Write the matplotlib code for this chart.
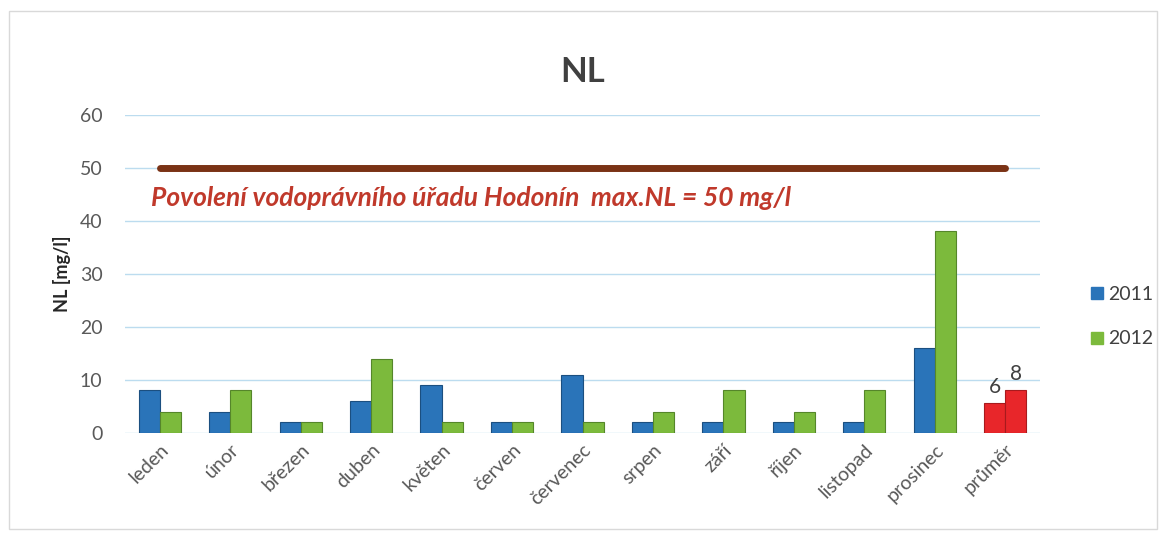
import numpy as np
import matplotlib.pyplot as plt
from matplotlib.patches import Rectangle
from matplotlib.lines import Line2D

plt.rcParams['font.family'] = ['Lato', 'DejaVu Sans']

months = ['leden', 'únor', 'březen', 'duben', 'květen', 'červen', 'červenec',
          'srpen', 'září', 'říjen', 'listopad', 'prosinec', 'průměr']
nl_2011 = [8, 4, 2, 6, 9, 2, 11, 2, 2, 2, 2, 16, 5.6]
nl_2012 = [4, 8, 2, 14, 2, 2, 2, 4, 8, 4, 8, 38, 8]
avg_labels = ['6', '8']
limit = 50
limit_text = 'Povolení vodoprávního úřadu Hodonín  max.NL = 50 mg/l'

blue = '#2a74b9'
green = '#7cba3c'
red = '#e8262a'

fig = plt.figure(figsize=(11.65, 5.37), dpi=100)
fig.patches.append(Rectangle((0.008, 0.015), 0.985, 0.965, transform=fig.transFigure,
                             fill=False, edgecolor='#d9d9d9', linewidth=1))
ax = fig.add_axes([0.107, 0.194, 0.786, 0.592])

x = np.arange(len(months))
w = 0.3
c1 = [blue] * (len(months) - 1) + [red]
c2 = [green] * (len(months) - 1) + [red]
e1 = ['#1b4f80'] * (len(months) - 1) + ['#a81a1d']
e2 = ['#55862a'] * (len(months) - 1) + ['#a81a1d']
ax.bar(x - w / 2, nl_2011, w, color=c1, edgecolor=e1, linewidth=0.8, zorder=3)
ax.bar(x + w / 2, nl_2012, w, color=c2, edgecolor=e2, linewidth=0.8, zorder=3)

ax.plot([x[0], x[-1]], [limit, limit], color='#7a3215', linewidth=5,
        solid_capstyle='round', zorder=4)
ax.text(-0.12, 44.3, limit_text, color='#c0392b', fontsize=19, fontweight='bold',
        fontstyle='italic', va='center', ha='left')

ax.text(x[-1] - w / 2, nl_2011[-1] + 1.2, avg_labels[0], ha='center', va='bottom',
        fontsize=15, color='#404040')
ax.text(x[-1] + w / 2, nl_2012[-1] + 1.2, avg_labels[1], ha='center', va='bottom',
        fontsize=15, color='#404040')

ax.set_xlim(-0.5, len(months) - 0.5)
ax.set_ylim(0, 60)
ax.set_yticks(range(0, 61, 10))
ax.yaxis.grid(True, color='#bcdcef', linewidth=1)
ax.set_axisbelow(True)
for s in ax.spines.values():
    s.set_visible(False)
ax.tick_params(axis='both', length=0, colors='#595959', labelsize=14)
ax.tick_params(axis='y', pad=16)
ax.tick_params(axis='x', pad=6)
ax.set_xticks(x)
ax.set_xticklabels(months, rotation=45, ha='right', rotation_mode='anchor',
                   fontsize=14, color='#595959')
ax.set_ylabel('NL [mg/l]', fontsize=13, fontweight='bold', color='#262626', labelpad=6)
ax.set_title('NL', fontsize=25, fontweight='bold', color='#404040', pad=24)

handles = [Line2D([], [], marker='s', linestyle='', markersize=8, color=blue),
           Line2D([], [], marker='s', linestyle='', markersize=8, color=green)]
fig.legend(handles, ['2011', '2012'], loc='center left', bbox_to_anchor=(0.918, 0.41),
           frameon=False, fontsize=14, labelspacing=1.4, handletextpad=0.1,
           handlelength=1, labelcolor='#404040')

fig.savefig('out.png', dpi=100)
